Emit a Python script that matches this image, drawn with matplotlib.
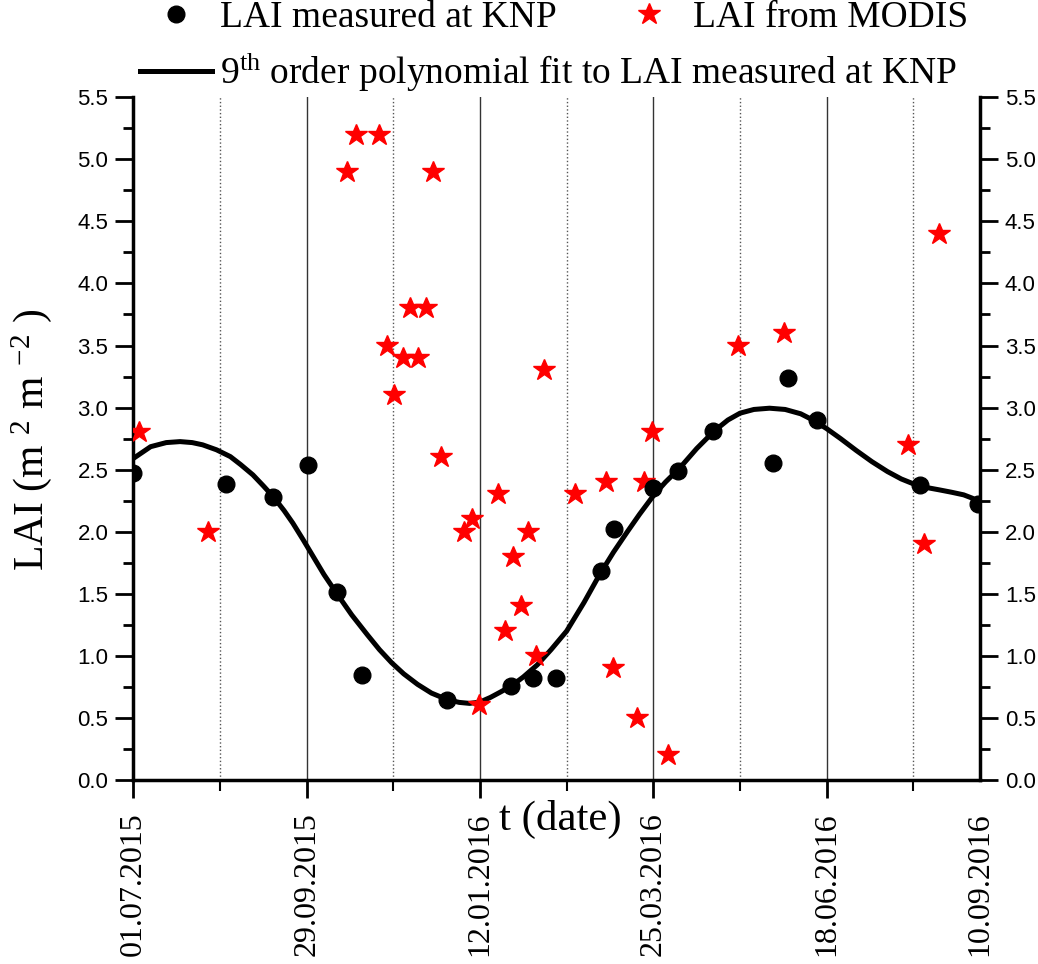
import matplotlib
matplotlib.use("Agg")
import matplotlib.pyplot as plt
from matplotlib.lines import Line2D
from matplotlib.ticker import MultipleLocator, FixedLocator

plt.rcParams['font.family'] = ['Liberation Sans', 'DejaVu Sans']
plt.rcParams['mathtext.fontset'] = 'custom'
plt.rcParams['mathtext.rm'] = 'Liberation Serif'
plt.rcParams['mathtext.it'] = 'Liberation Serif:italic'
plt.rcParams['mathtext.bf'] = 'Liberation Serif:bold'

SERIF = 'Liberation Serif'

# x is in "major tick" units: 0 = 01.07.2015, 1 = 29.09.2015, ... (equally spaced on the original axis)
date_labels = ["01.07.2015", "29.09.2015", "12.01.2016", "25.03.2016", "18.06.2016", "10.09.2016"]
x_max = 4.884

# LAI measured at KNP
knp_x = [0.0, 0.535, 0.804, 1.008, 1.173, 1.321, 1.811, 2.179, 2.304, 2.438,
         2.696, 2.771, 2.996, 3.140, 3.342, 3.688, 3.779, 3.946, 4.538, 4.875]
knp_y = [2.47, 2.385, 2.278, 2.538, 1.512, 0.843, 0.645, 0.757, 0.819, 0.819,
         1.684, 2.023, 2.350, 2.493, 2.815, 2.552, 3.242, 2.901, 2.377, 2.224]

# LAI from MODIS
modis_x = [0.033, 0.433, 1.235, 1.285, 1.419, 1.731, 1.596, 1.688, 1.462, 1.554,
           1.644, 1.506, 1.773, 1.910, 1.956, 1.996, 2.102, 2.189, 2.279, 2.235,
           2.146, 2.323, 2.369, 2.548, 2.725, 2.948, 2.994, 2.769, 2.904, 3.083,
           3.490, 3.755, 4.471, 4.561, 4.647]
modis_y = [2.8, 2.0, 4.9, 5.2, 5.2, 4.9, 3.8, 3.8, 3.5, 3.4,
           3.4, 3.1, 2.6, 2.0, 2.1, 0.6, 2.3, 1.8, 2.0, 1.4,
           1.2, 1.0, 3.3, 2.3, 2.4, 2.4, 2.8, 0.9, 0.5, 0.2,
           3.5, 3.6, 2.7, 1.9, 4.4]

# 9th order polynomial fit
fit_x = [0.0, 0.10, 0.19, 0.27, 0.34, 0.40, 0.48, 0.56, 0.62, 0.69, 0.75, 0.81,
         0.87, 0.92, 0.98, 1.04, 1.10, 1.17, 1.26, 1.35, 1.42, 1.49, 1.56, 1.64,
         1.72, 1.81, 1.88, 1.94, 2.00, 2.06, 2.12, 2.18, 2.25, 2.33, 2.41, 2.50,
         2.60, 2.69, 2.77, 2.85, 2.92, 3.00, 3.07, 3.15, 3.25, 3.35, 3.43, 3.50,
         3.58, 3.67, 3.76, 3.85, 3.92, 4.00, 4.08, 4.17, 4.26, 4.35, 4.43, 4.51,
         4.58, 4.65, 4.72, 4.79, 4.84, 4.884]
fit_y = [2.59, 2.685, 2.718, 2.726, 2.718, 2.70, 2.66, 2.605, 2.54, 2.458, 2.37, 2.278,
         2.17, 2.07, 1.935, 1.795, 1.655, 1.51, 1.33, 1.17, 1.05, 0.945, 0.855, 0.77,
         0.70, 0.648, 0.625, 0.617, 0.628, 0.665, 0.71, 0.757, 0.83, 0.927, 1.05, 1.20,
         1.43, 1.655, 1.835, 2.00, 2.14, 2.29, 2.40, 2.51, 2.67, 2.81, 2.90, 2.955,
         2.985, 2.995, 2.985, 2.95, 2.90, 2.83, 2.75, 2.655, 2.565, 2.485, 2.425, 2.38,
         2.355, 2.337, 2.318, 2.297, 2.27, 2.235]

fig = plt.figure(figsize=(10.38, 9.64), dpi=100)
ax = fig.add_axes([0.1284, 0.1909, 0.8157, 0.7082])

ax.plot(fit_x, fit_y, color='black', lw=3.6, zorder=3, solid_joinstyle='round')
ax.plot(modis_x, modis_y, ls='none', marker='*', ms=16.5, mfc='red', mec='red', zorder=4)
ax.plot(knp_x, knp_y, ls='none', marker='o', ms=12, mfc='black', mec='black', zorder=5)

ax.set_xlim(0, x_max)
ax.set_ylim(0, 5.5)

# spines
ax.spines['top'].set_visible(False)
for s in ['left', 'right', 'bottom']:
    ax.spines[s].set_linewidth(2.5)

# y axis, labels on both sides
ax.yaxis.set_major_locator(MultipleLocator(0.5))
ax.yaxis.set_minor_locator(MultipleLocator(0.25))
ax.yaxis.set_major_formatter(matplotlib.ticker.FormatStrFormatter('%.1f'))
ax.tick_params(axis='y', which='major', direction='out', length=13, width=2,
               left=True, right=True, labelleft=True, labelright=True, labelsize=16, pad=5)
ax.tick_params(axis='y', which='minor', direction='out', length=7, width=2,
               left=True, right=True)

# x axis: equally spaced date ticks
ax.xaxis.set_major_locator(FixedLocator([0, 1, 2, 3, 4, x_max]))
ax.xaxis.set_minor_locator(FixedLocator([0.5, 1.5, 2.5, 3.5, 4.5]))
ax.set_xticklabels(date_labels, rotation=90, fontfamily=SERIF, fontsize=23)
ax.tick_params(axis='x', which='major', direction='out', length=13, width=2, pad=10)
ax.tick_params(axis='x', which='minor', direction='out', length=8, width=1.5)

ax.xaxis.grid(True, which='major', color='#333333', lw=1.0, ls='-')
ax.xaxis.grid(True, which='minor', color='#555555', lw=1.0, ls=':')
last = ax.xaxis.get_major_ticks()[-1]
last.tick1line.set_visible(False)
last.gridline.set_visible(False)

ax.set_xlabel('t (date)', fontfamily=SERIF, fontsize=31)
ax.xaxis.set_label_coords(0.504, -0.03)
ax.set_ylabel('LAI (m $^{2}$ m $^{-2}$ )', fontfamily=SERIF, fontsize=30)
ax.yaxis.set_label_coords(-0.094, 0.498)

# legend in two rows at the top
h_knp = Line2D([], [], ls='none', marker='o', ms=12, color='black')
h_modis = Line2D([], [], ls='none', marker='*', ms=16.5, color='red')
h_fit = Line2D([], [], color='black', lw=3.6)
leg_kw = dict(loc='center left', frameon=False, prop={'family': SERIF, 'size': 27},
              handlelength=1.93, handletextpad=0.2, columnspacing=1.5,
              borderpad=0, borderaxespad=0)
fig.legend([h_knp, h_modis], ['LAI measured at KNP', 'LAI from MODIS'], ncol=2,
           bbox_to_anchor=(140 / 1038, 1 - 18 / 964), **leg_kw)
fig.legend([h_fit], ['9$^{\\mathrm{th}}$ order polynomial fit to LAI measured at KNP'],
           bbox_to_anchor=(140 / 1038, 1 - 72 / 964), **leg_kw)

fig.savefig('out.png', dpi=100)
